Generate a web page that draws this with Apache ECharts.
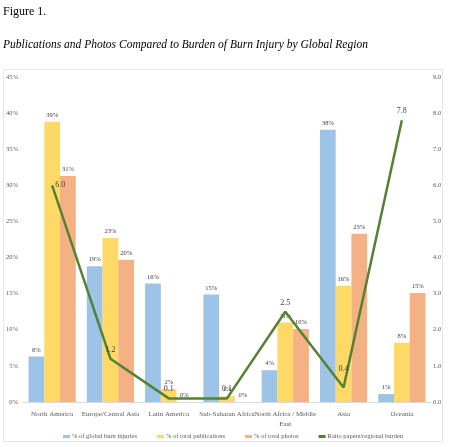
<!DOCTYPE html>
<html lang="en">
<head>
<meta charset="UTF-8">
<title>Figure 1</title>
<script src="https://cdn.jsdelivr.net/npm/echarts@6/dist/echarts.min.js"></script>
<style>
  html, body { margin: 0; padding: 0; background: #fff; }
  #main { width: 450px; height: 447px; }
</style>
</head>
<body>
<div id="main"></div>
<script>
    // data
    var regions = ['North America', 'Europe/Central Asia', 'Latin America', 'Sub-Saharan Africa',
                   'North Africa / Middle\nEast', 'Asia', 'Oceania'];
    var burnInjuries = [6.3, 18.8, 16.4, 14.9, 4.4, 37.7, 1.1];
    var publications = [38.8, 22.7, 1.8, 0.8, 11.0, 16.1, 8.2];
    var photos = [31.3, 19.7, 0, 0, 10.1, 23.3, 15.1];
    var ratio = [6.0, 1.2, 0.1, 0.1, 2.5, 0.4, 7.8];
    var seriesNames = ['% of global burn injuries', '% of total publications', '% of total photos', 'Ratio papers/regional burden'];

    var serif = '"Liberation Serif", "DejaVu Serif", serif';
    var txt = '#595959';

    var barLabel = {
        show: true,
        position: 'top',
        distance: 3,
        fontFamily: serif,
        fontSize: 6.5,
        color: '#404040',
        formatter: function (p) { return Math.round(p.value) + '%'; }
    };

    function bar(name, data, color) {
        return {
            name: name,
            type: 'bar',
            data: data,
            barGap: 0,
            barCategoryGap: '19%',
            itemStyle: { color: color },
            label: barLabel
        };
    }

    // ratio points; a couple of labels sit differently in the original
    var ratioData = ratio.map(function (v, i) {
        if (i === 0) return { value: v, label: { position: 'right', distance: 3 } };
        if (i === 5) return { value: v, label: { distance: 15 } };
        return v;
    });

    var chart = echarts.init(document.getElementById('main'));
    chart.setOption({
        backgroundColor: '#fff',
        animation: false,
        title: [{
            text: 'Figure 1.',
            left: 3, top: 6, padding: 0,
            textStyle: { fontFamily: serif, fontSize: 12, fontWeight: 'normal', color: '#000' }
        }, {
            text: 'Publications and Photos Compared to Burden of Burn Injury by Global Region',
            left: 3, top: 39, padding: 0,
            textStyle: { fontFamily: serif, fontSize: 11.5, fontStyle: 'italic', fontWeight: 'normal', color: '#000' }
        }],
        graphic: [{
            type: 'rect',
            shape: { x: 3.5, y: 69.5, width: 439, height: 372 },
            style: { fill: 'none', stroke: '#e6e6e6', lineWidth: 1 },
            silent: true
        }],
        grid: { left: 23, right: 19, top: 77, bottom: 45 },
        legend: {
            top: 433,
            left: 63,
            itemWidth: 7,
            itemHeight: 3,
            itemGap: 20,
            padding: 0,
            textStyle: { fontFamily: serif, fontSize: 6.5, color: txt, padding: [0, 0, 0, -3] },
            data: [
                { name: seriesNames[0], icon: 'rect' },
                { name: seriesNames[1], icon: 'rect' },
                { name: seriesNames[2], icon: 'rect' },
                { name: seriesNames[3], icon: 'rect' }
            ]
        },
        xAxis: {
            type: 'category',
            data: regions,
            axisTick: { show: false },
            axisLine: { lineStyle: { color: '#d9d9d9' } },
            axisLabel: { fontFamily: serif, fontSize: 7, color: txt, margin: 7, interval: 0, lineHeight: 10 }
        },
        yAxis: [{
            type: 'value',
            min: 0, max: 45, interval: 5,
            axisLabel: { fontFamily: serif, fontSize: 6.5, color: txt, margin: 5, formatter: '{value}%' },
            axisLine: { show: false },
            axisTick: { show: false },
            splitLine: { show: false }
        }, {
            type: 'value',
            min: 0, max: 9, interval: 1,
            axisLabel: { fontFamily: serif, fontSize: 6.5, color: txt, margin: 2, formatter: function (v) { return v.toFixed(1); } },
            axisLine: { show: false },
            axisTick: { show: false },
            splitLine: { show: false }
        }],
        series: [
            bar(seriesNames[0], burnInjuries, '#9dc3e6'),
            bar(seriesNames[1], publications, '#ffd966'),
            bar(seriesNames[2], photos, '#f4b183'),
            {
                name: seriesNames[3],
                type: 'line',
                yAxisIndex: 1,
                data: ratioData,
                symbol: 'circle',
                symbolSize: 0.1,
                showSymbol: true,
                z: 5,
                lineStyle: { color: '#548235', width: 2.5 },
                itemStyle: { color: '#548235' },
                label: {
                    show: true,
                    position: 'top',
                    distance: 5,
                    fontFamily: serif,
                    fontSize: 8,
                    color: '#404040',
                    formatter: function (p) { return p.value.toFixed(1); }
                }
            }
        ]
    });
</script>
</body>
</html>
